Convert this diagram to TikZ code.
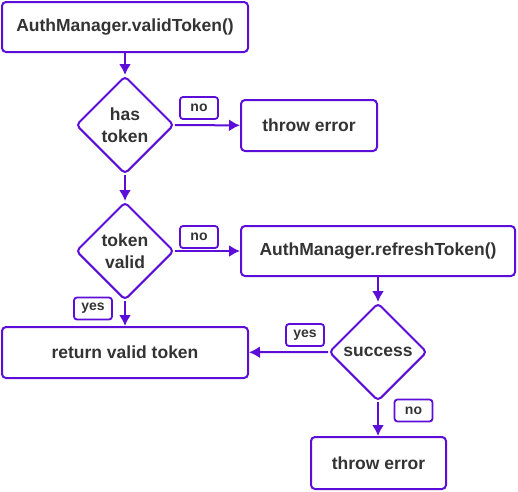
\documentclass[tikz,border=0pt]{standalone}
\usepackage{fontspec}
\setmainfont{Liberation Sans}
\usepackage{xcolor}
\usepackage{tikz}
\usetikzlibrary{shapes.geometric}
\usetikzlibrary{arrows.meta}
\definecolor{flow}{RGB}{92,14,216}
\definecolor{ink}{RGB}{51,51,51}
\tikzset{>={Latex[length=11pt,width=12pt]}}

\begin{document}
\begin{tikzpicture}[x=1pt, y=-1pt,
      proc/.style={draw=flow, line width=2pt, rounded corners=4pt, text=ink, inner sep=0pt,
        font=\fontsize{17.5}{20}\selectfont\bfseries},
      cond/.style={draw=flow, line width=2pt, diamond, rounded corners=4pt, text=ink, inner sep=0pt,
        minimum size=98pt, align=center, font=\fontsize{17.5}{22}\selectfont\bfseries},
      tag/.style={draw=flow, line width=1.8pt, rounded corners=3pt, text=ink, inner sep=0pt,
        minimum width=38pt, minimum height=22pt, font=\fontsize{14}{15}\selectfont\bfseries},
      link/.style={draw=flow, line width=2pt, ->}]
      \useasboundingbox (0,0) rectangle (518,491);
	  \node at (125,27) [proc, minimum width=246pt, minimum height=50pt] (valid) {AuthManager.validToken()};
	  \node at (125,125) [cond] (has) {has\\token};
	  \node at (309,125.5) [proc, minimum width=136pt, minimum height=51pt] (err1) {throw error};
	  \node at (125,251) [cond] (ok) {token\\valid};
	  \node at (378,251) [proc, minimum width=274pt, minimum height=50pt] (refresh) {AuthManager.refreshToken()};
	  \node at (125,352.5) [proc, minimum width=246pt, minimum height=51pt] (ret) {return valid token};
	  \node at (378,352) [cond] (succ) {success};
	  \node at (378.5,463) [proc, minimum width=135pt, minimum height=52pt] (err2) {throw error};
	  \node at (199,108) [tag] (no1) {no};
	  \node at (199,237) [tag] (no2) {no};
	  \node at (93,308.5) [tag] (yes1) {yes};
	  \node at (305,335) [tag] (yes2) {yes};
	  \node at (413.5,410.5) [tag] (no3) {no};
      \draw [link] (valid) -- (has);
      \draw [link] (has) -- (err1);
      \draw [link] (has) -- (ok);
      \draw [link] (ok) -- (refresh);
      \draw [link] (ok) -- (ret);
      \draw [link] (refresh) -- (succ);
      \draw [link] (succ) -- (ret);
      \draw [link] (succ.south) -- (succ.south |- err2.north);
    \end{tikzpicture}
\end{document}
